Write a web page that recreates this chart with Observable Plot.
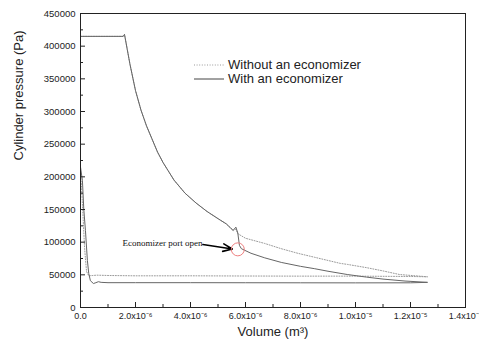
<!DOCTYPE html>
<html>
<head>
<meta charset="utf-8">
<script src="https://cdn.jsdelivr.net/npm/d3@7"></script>
<script src="https://cdn.jsdelivr.net/npm/@observablehq/plot@0.6"></script>
<style>
  html, body { margin: 0; padding: 0; background: #fff; }
  #wrap { position: relative; width: 479px; height: 350px; font-family: "Liberation Sans", Arial, sans-serif; }
  #legend { position: absolute; left: 194px; top: 58px; font-size: 13px; color: #222; line-height: 13.5px; }
  #legend .row { display: flex; align-items: center; }
  #legend svg { margin-right: 4px; }
</style>
</head>
<body>
<div id="wrap">
  <div id="chart"></div>
  <div id="legend"></div>
</div>
<script>
// Volumes in units of 1e-6 m³, pressures in Pa
const xTicks = [0, 2, 4, 6, 8, 10, 12, 14];
const xTickLabels = ["0.0", "2.0x10⁻⁶", "4.0x10⁻⁶", "6.0x10⁻⁶", "8.0x10⁻⁶", "1.0x10⁻⁵", "1.2x10⁻⁵", "1.4x10⁻⁵"];
const xMinorTicks = [1, 3, 5, 7, 9, 11, 13];
const yTicks = [0, 50000, 100000, 150000, 200000, 250000, 300000, 350000, 400000, 450000];
const yMinorTicks = [25000, 75000, 125000, 175000, 225000, 275000, 325000, 375000, 425000];

const seriesNames = ["Without an economizer", "With an economizer"];
const xTitle = "Volume (m³)";
const yTitle = "Cylinder pressure (Pa)";

// With an economizer (solid)
const withV = [0, 1.55, 1.6, 1.7, 1.8, 2.0, 2.2, 2.4, 2.6, 2.8, 3.0, 3.4, 3.8, 4.2, 4.6, 5.0, 5.3, 5.45, 5.55, 5.65, 5.72, 5.78, 5.85,
  6.2, 6.7, 7.3, 8.0, 8.5, 9.0, 9.7, 10.4, 11.0, 11.8, 12.62,
  12.0, 10.0, 8.0, 6.0, 4.0, 2.0, 1.0, 0.75, 0.65, 0.56, 0.47, 0.36, 0.3, 0.25, 0.18, 0.12, 0.07, 0, 0];
const withP = [415000, 415000, 418000, 395000, 372000, 332000, 302000, 278000, 258000, 238000, 222000, 195000, 175000, 160000, 147000, 136000, 128000, 122000, 118000, 123000, 114000, 95000, 90000,
  83000, 76000, 69000, 63000, 59500, 55500, 50500, 46500, 43500, 40500, 38500,
  37800, 37700, 37800, 37900, 38000, 38000, 38000, 38500, 39500, 38000, 36700, 41000, 52000, 72000, 118000, 150000, 194000, 215000, 415000];

// Without an economizer (dotted)
const withoutV = [0, 1.55, 1.6, 1.7, 1.8, 2.0, 2.2, 2.4, 2.6, 2.8, 3.0, 3.4, 3.8, 4.2, 4.6, 5.0, 5.3, 5.45, 5.55, 5.65, 5.72,
  6.0, 6.7, 7.3, 7.9, 8.5, 9.0, 9.45, 9.7, 10.4, 11.0, 11.6, 12.62,
  12.0, 10.0, 8.0, 6.0, 4.0, 2.0, 1.0, 0.6, 0.45, 0.3, 0.22, 0.15, 0.08, 0.03, 0, 0];
const withoutP = [415000, 415000, 418000, 395000, 372000, 332000, 302000, 278000, 258000, 238000, 222000, 195000, 175000, 160000, 147000, 136000, 128000, 122000, 118000, 120000, 113000,
  106000, 98000, 90000, 83000, 77000, 72000, 67500, 66000, 61000, 56000, 50500, 47000,
  47500, 48000, 48000, 48200, 48500, 48500, 49000, 49500, 49000, 48500, 55000, 90000, 150000, 190000, 210000, 415000];

const noteText = "Economizer port open";
const note = {x: 1.53, y: 98000};
const arrow = {x1: 4.45, y1: 96500, x2: 5.52, y2: 89500};
const circle = {x: 5.72, y: 89000};

const withData = withV.map((v, i) => ({v, p: withP[i]}));
const withoutData = withoutV.map((v, i) => ({v, p: withoutP[i]}));

const W = 479, H = 350, mL = 80, mR = 14, mT = 13, mB = 43;
const plotW = W - mL - mR, plotH = H - mT - mB;

const chart = Plot.plot({
  width: W, height: H,
  marginLeft: mL, marginRight: mR, marginTop: mT, marginBottom: mB,
  style: {fontFamily: "'Liberation Sans', Arial, sans-serif", color: "#222", background: "#fff", overflow: "visible"},
  x: {domain: [0, 14], axis: null},
  y: {domain: [0, 450000], axis: null},
  marks: [
    Plot.line(withoutData, {x: "v", y: "p", stroke: "#9a9a9a", strokeWidth: 1, strokeDasharray: "1,1.6"}),
    Plot.line(withData, {x: "v", y: "p", stroke: "#666", strokeWidth: 1}),
    Plot.tickY(yTicks, {y: d => d, insetRight: plotW - 5, stroke: "#222"}),
    Plot.tickY(yMinorTicks, {y: d => d, insetRight: plotW - 3, stroke: "#222"}),
    Plot.tickX(xTicks, {x: d => d, insetTop: plotH - 5, stroke: "#222"}),
    Plot.tickX(xMinorTicks, {x: d => d, insetTop: plotH - 3, stroke: "#222"}),
    Plot.axisY({ticks: yTicks, tickSize: 0, tickPadding: 5, tickFormat: d => String(d), fontSize: 9.5, label: null}),
    Plot.axisX({ticks: xTicks, tickSize: 0, tickPadding: 5, tickFormat: d => xTickLabels[xTicks.indexOf(d)], fontSize: 9, label: null}),
    Plot.frame({stroke: "#222", strokeWidth: 1}),
    Plot.text([xTitle], {text: d => d, frameAnchor: "bottom", dy: 28, fontSize: 13, fill: "#222"}),
    Plot.text([yTitle], {text: d => d, frameAnchor: "left", rotate: -90, dx: -62, fontSize: 13, fill: "#222"}),
    Plot.text([note], {x: "x", y: "y", text: () => noteText, textAnchor: "start", fontFamily: "'Liberation Serif', 'Times New Roman', serif", fontSize: 9, fill: "#111"}),
    Plot.arrow([arrow], {x1: "x1", y1: "y1", x2: "x2", y2: "y2", stroke: "#000", strokeWidth: 1.6, headLength: 11, headAngle: 45}),
    Plot.dot([circle], {x: "x", y: "y", r: 6.5, stroke: "#ee8080", strokeWidth: 1, fill: "none"})
  ]
});
document.getElementById("chart").appendChild(chart);

const legend = document.getElementById("legend");
const styles = [
  {stroke: "#9a9a9a", dash: "1,1.6", width: 1},
  {stroke: "#444", dash: null, width: 1}
];
seriesNames.forEach((name, i) => {
  const row = document.createElement("div");
  row.className = "row";
  const s = styles[i];
  row.innerHTML = `<svg width="30" height="13"><line x1="0" x2="30" y1="7" y2="7" stroke="${s.stroke}" stroke-width="${s.width}" ${s.dash ? `stroke-dasharray="${s.dash}"` : ""}/></svg><span>${name}</span>`;
  legend.appendChild(row);
});
</script>
</body>
</html>
